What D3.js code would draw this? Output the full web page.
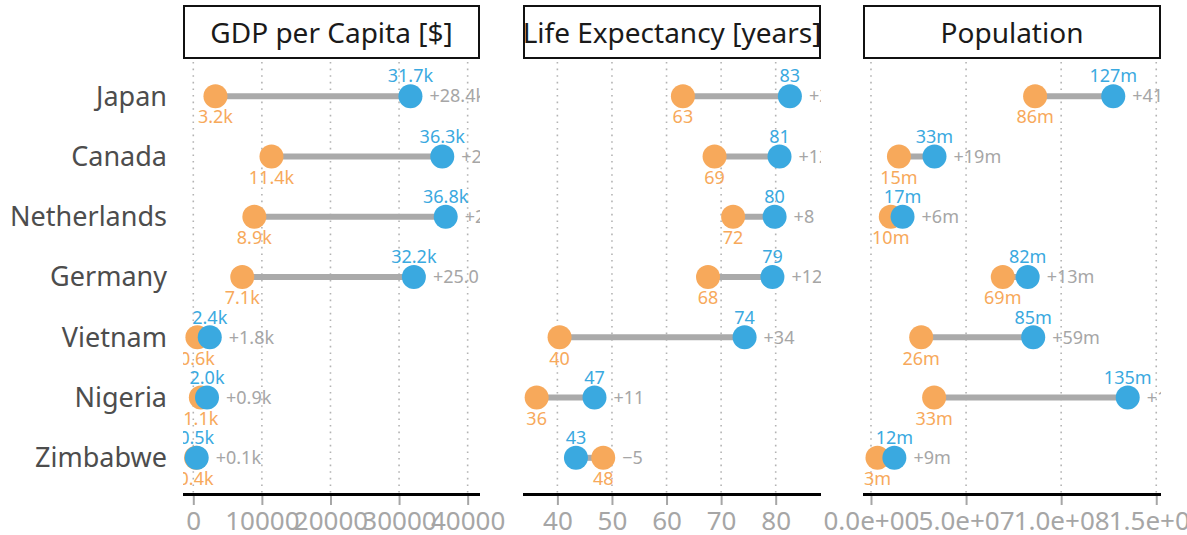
<!DOCTYPE html>
<html>
<head>
<meta charset="utf-8">
<script src="https://cdn.jsdelivr.net/npm/d3@7"></script>
<style>
  body { margin: 0; background: #fff; }
  text { font-family: "Noto Sans", sans-serif; }
</style>
</head>
<body>
<svg id="chart"></svg>
<script>
// countries, top to bottom
const countries = ["Japan", "Canada", "Netherlands", "Germany", "Vietnam", "Nigeria", "Zimbabwe"];

// orange = start, blue = end
const gdpStart = [3230, 11400, 8900, 7140, 600, 1100, 400];
const gdpEnd = [31660, 36300, 36800, 32160, 2400, 2000, 500];

const lifeStart = [63.0, 68.8, 72.2, 67.6, 40.4, 36.2, 48.4];
const lifeEnd = [82.6, 80.7, 79.8, 79.4, 74.3, 46.8, 43.4];

const popStart = [86.3e6, 14.7e6, 10.4e6, 69.3e6, 26.4e6, 33.2e6, 3.4e6];
const popEnd = [127.4e6, 33.4e6, 16.6e6, 82.4e6, 85.3e6, 135.0e6, 12.3e6];

// axis ticks
const gdpTicks = [0, 10000, 20000, 30000, 40000];
const gdpTickLabels = ["0", "10000", "20000", "30000", "40000"];
const lifeTicks = [40, 50, 60, 70, 80];
const lifeTickLabels = ["40", "50", "60", "70", "80"];
const popTicks = [0, 5e7, 1e8, 1.5e8];
const popTickLabels = ["0.0e+00", "5.0e+07", "1.0e+08", "1.5e+08"];

const width = 1187, height = 535;
const orange = "#f7a95b", blue = "#3aa9e0", segGrey = "#aaaaaa";

const svg = d3.select("#chart")
    .attr("width", width)
    .attr("height", height);

const minus = "\u2212";
const panels = [
    {
        title: "GDP per Capita [$]", start: gdpStart, end: gdpEnd,
        domain: [-1500, 41800], range: [183, 480],
        ticks: gdpTicks, tickLabels: gdpTickLabels,
        fmt: v => (v / 1000).toFixed(1) + "k",
        diff: d => (d >= 0 ? "+" : minus) + (Math.abs(d) / 1000).toFixed(1) + "k"
    },
    {
        title: "Life Expectancy [years]", start: lifeStart, end: lifeEnd,
        domain: [33.7, 88.3], range: [523, 821],
        ticks: lifeTicks, tickLabels: lifeTickLabels,
        fmt: v => v.toFixed(0),
        diff: d => (d >= 0 ? "+" : minus) + Math.abs(d).toFixed(0)
    },
    {
        title: "Population", start: popStart, end: popEnd,
        domain: [-4.2e6, 1.525e8], range: [863, 1161],
        ticks: popTicks, tickLabels: popTickLabels,
        fmt: v => Math.round(v / 1e6) + "m",
        diff: d => (d >= 0 ? "+" : minus) + Math.round(Math.abs(d) / 1e6) + "m"
    }
];

const panelTop = 60, panelBottom = 494;
const y = d3.scalePoint()
    .domain(countries)
    .range([panelTop, panelBottom])
    .padding(0.6);

// country labels
svg.append("g")
    .selectAll("text")
    .data(countries)
    .join("text")
    .attr("x", 167)
    .attr("y", d => y(d))
    .attr("dy", "0.35em")
    .attr("text-anchor", "end")
    .attr("fill", "#4d4d4d")
    .attr("font-size", 27)
    .text(d => d);

const defs = svg.append("defs");

panels.forEach((p, i) => {
    const x = d3.scaleLinear().domain(p.domain).range(p.range);
    const [x0, x1] = p.range;

    defs.append("clipPath").attr("id", "clip" + i)
        .append("rect")
        .attr("x", x0).attr("y", panelTop)
        .attr("width", x1 - x0).attr("height", panelBottom - panelTop);
    defs.append("clipPath").attr("id", "stripclip" + i)
        .append("rect")
        .attr("x", x0).attr("y", 5)
        .attr("width", x1 - x0).attr("height", 54);

    // strip
    svg.append("rect")
        .attr("x", x0 + 1).attr("y", 6)
        .attr("width", x1 - x0 - 2).attr("height", 52)
        .attr("fill", "#fff")
        .attr("stroke", "#111")
        .attr("stroke-width", 2);
    svg.append("text")
        .attr("clip-path", `url(#stripclip${i})`)
        .attr("x", (x0 + x1) / 2)
        .attr("y", 33)
        .attr("dy", "0.35em")
        .attr("text-anchor", "middle")
        .attr("fill", "#1a1a1a")
        .attr("font-size", 28)
        .text(p.title);

    const g = svg.append("g").attr("clip-path", `url(#clip${i})`);

    // dotted grid
    g.selectAll("line.grid")
        .data(p.ticks)
        .join("line")
        .attr("class", "grid")
        .attr("x1", d => x(d)).attr("x2", d => x(d))
        .attr("y1", panelTop + 2).attr("y2", panelBottom)
        .attr("stroke", "#b3b3b3")
        .attr("stroke-width", 1.6)
        .attr("stroke-dasharray", "1.6,5");

    const rows = countries.map((c, j) => ({ c, s: p.start[j], e: p.end[j] }));

    // segments
    g.selectAll("line.seg")
        .data(rows)
        .join("line")
        .attr("class", "seg")
        .attr("x1", d => x(d.s)).attr("x2", d => x(d.e))
        .attr("y1", d => y(d.c)).attr("y2", d => y(d.c))
        .attr("stroke", segGrey)
        .attr("stroke-width", 6);

    // start points
    g.selectAll("circle.start")
        .data(rows)
        .join("circle")
        .attr("class", "start")
        .attr("cx", d => x(d.s)).attr("cy", d => y(d.c))
        .attr("r", 12)
        .attr("fill", orange);

    // end points
    g.selectAll("circle.end")
        .data(rows)
        .join("circle")
        .attr("class", "end")
        .attr("cx", d => x(d.e)).attr("cy", d => y(d.c))
        .attr("r", 12)
        .attr("fill", blue);

    // value labels
    g.selectAll("text.slab")
        .data(rows)
        .join("text")
        .attr("class", "slab")
        .attr("x", d => x(d.s)).attr("y", d => y(d.c) + 21)
        .attr("dy", "0.35em")
        .attr("text-anchor", "middle")
        .attr("fill", orange)
        .attr("font-size", 18)
        .text(d => p.fmt(d.s));

    g.selectAll("text.elab")
        .data(rows)
        .join("text")
        .attr("class", "elab")
        .attr("x", d => x(d.e)).attr("y", d => y(d.c) - 20)
        .attr("dy", "0.35em")
        .attr("text-anchor", "middle")
        .attr("fill", blue)
        .attr("font-size", 18)
        .text(d => p.fmt(d.e));

    // difference labels
    g.selectAll("text.dlab")
        .data(rows)
        .join("text")
        .attr("class", "dlab")
        .attr("x", d => x(Math.max(d.s, d.e)) + 19).attr("y", d => y(d.c))
        .attr("dy", "0.35em")
        .attr("fill", "#a6a6a6")
        .attr("font-size", 18)
        .text(d => p.diff(d.e - d.s));

    // bottom axis
    const axis = svg.append("g")
        .attr("transform", `translate(0,${panelBottom + 1})`)
        .call(d3.axisBottom(x)
            .tickValues(p.ticks)
            .tickFormat((d, k) => p.tickLabels[k])
            .tickSize(10)
            .tickPadding(7));
    axis.select(".domain").remove();
    axis.selectAll(".tick line")
        .attr("stroke", "#a6a6a6")
        .attr("stroke-width", 2);
    axis.selectAll(".tick text")
        .attr("fill", "#a6a6a6")
        .attr("font-size", 26)
        .attr("font-family", "Noto Sans, sans-serif");
    svg.append("line")
        .attr("x1", x0).attr("x2", x1)
        .attr("y1", panelBottom + 0.5).attr("y2", panelBottom + 0.5)
        .attr("stroke", "#000")
        .attr("stroke-width", 3);
});
</script>
</body>
</html>
